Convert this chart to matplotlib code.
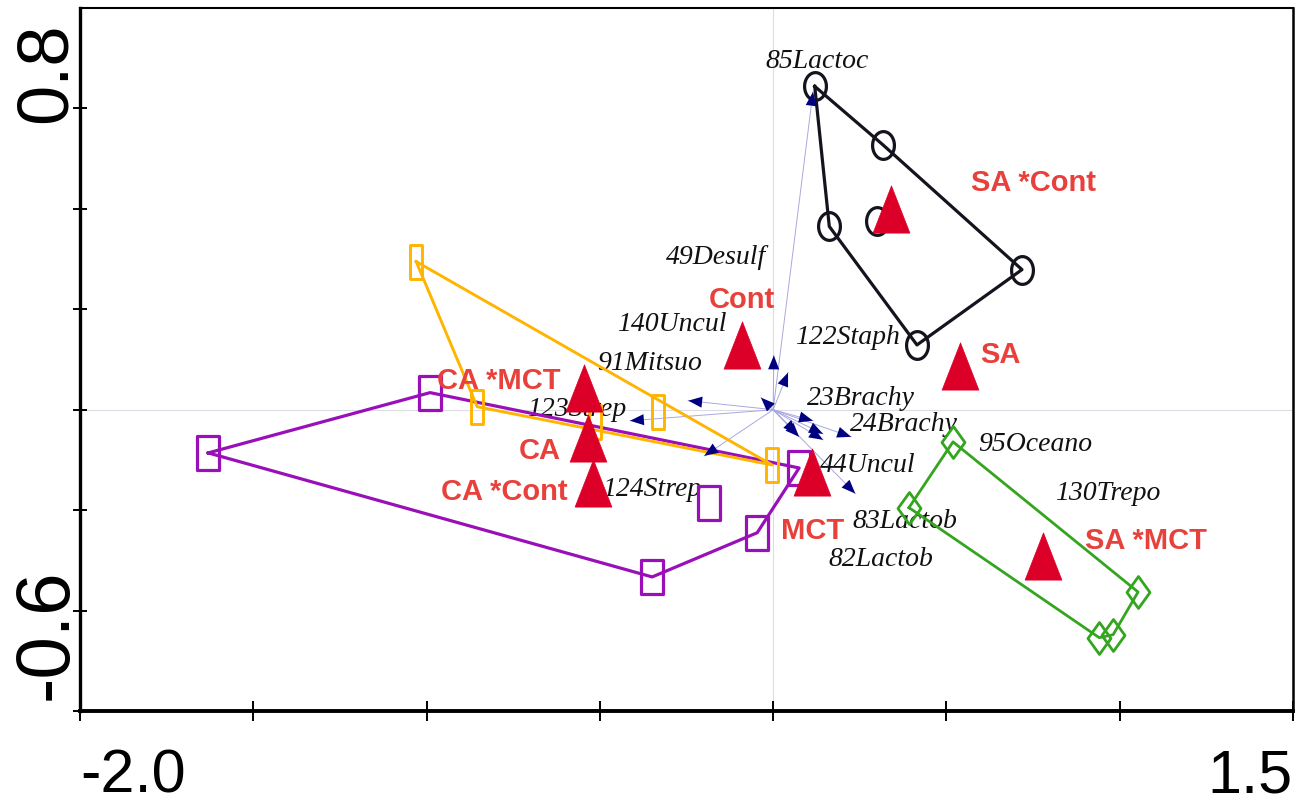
import numpy as np
import matplotlib
matplotlib.use("Agg")
import matplotlib.pyplot as plt
from matplotlib.path import Path
from matplotlib import font_manager

# ---------------- sample scores, one group per treatment ----------------
sa_cont_x = [0.120, 0.316, 0.162, 0.299, 0.718, 0.415]
sa_cont_y = [0.644, 0.528, 0.365, 0.375, 0.279, 0.129]

ca_mct_x = [-1.030, -0.854, -0.332, -0.003, -0.514]
ca_mct_y = [0.295, 0.006, -0.004, -0.110, -0.024]

ca_cont_x = [-1.630, -0.990, -0.349, -0.185, -0.046, 0.075]
ca_cont_y = [-0.086, 0.034, -0.333, -0.185, -0.245, -0.116]

sa_mct_x = [0.519, 0.392, 1.053, 0.941, 0.981]
sa_mct_y = [-0.064, -0.195, -0.363, -0.454, -0.448]

# ---------------- treatment centroids (nominal variables) ----------------
treat_names = ["SA *Cont", "SA", "Cont", "CA *MCT", "CA", "CA *Cont", "MCT", "SA *MCT"]
treat_x = [0.340, 0.540, -0.089, -0.547, -0.533, -0.520, 0.113, 0.778]
treat_y = [0.400, 0.088, 0.129, 0.043, -0.056, -0.146, -0.124, -0.291]

# ---------------- species arrows ----------------
species_names = ["85Lactoc", "49Desulf", "140Uncul", "91Mitsuo", "122Staph",
                 "123Strep", "23Brachy", "24Brachy", "44Uncul", "95Oceano",
                 "124Strep", "130Trepo", "83Lactob", "82Lactob"]
species_x = [0.115, 0.002, -0.035, -0.245, 0.043, -0.413, 0.115, 0.225,
             0.144, 0.144, -0.199, 0.237, 0.069, 0.075]
species_y = [0.633, 0.108, 0.024, 0.018, 0.074, -0.022, -0.022, -0.054,
             -0.048, -0.060, -0.092, -0.167, -0.048, -0.054]

x_tick_values = [-2.0, -1.5, -1.0, -0.5, 0.0, 0.5, 1.0, 1.5]
y_tick_values = [-0.6, -0.4, -0.2, 0.0, 0.2, 0.4, 0.6]

# ---------------- label placement (pixel offsets) ----------------
species_offsets = [(-48, 30), (-108, 98), (-144, 73), (-91, 37), (7, 35),
                   (-103, 11), (-6, 22), (-1, 12), (-3, -32), (155, -5),
                   (-102, -34), (200, 0), (55, -88), (29, -123)]
treat_offsets = [(80, 26, "left"), (20, 11, "left"), (0, 45, "center"),
                 (-23, 7, "right"), (-28, -13, "right"), (-25, -9, "right"),
                 (0, -59, "center"), (42, 15, "left")]

# ---------------- fonts ----------------
_names = {f.name for f in font_manager.fontManager.ttflist}
if "Liberation Sans Narrow" in _names:
    sans = "Liberation Sans Narrow"
    red_size, xlab_size = 24, 50
else:
    sans = "Liberation Sans"
    red_size, xlab_size = 21, 44
serif = "Liberation Serif" if "Liberation Serif" in _names else "DejaVu Serif"


# ---------------- marker shapes ----------------
def closed_marker(verts):
    verts = list(verts) + [verts[0]]
    codes = [Path.MOVETO] + [Path.LINETO] * (len(verts) - 2) + [Path.CLOSEPOLY]
    return Path(verts, codes)


_t = np.linspace(0, 2 * np.pi, 60, endpoint=False)
ellipse_marker = closed_marker([(0.393 * np.cos(a), 0.5 * np.sin(a)) for a in _t])
square_marker = closed_marker([(-0.333, -0.5), (0.333, -0.5), (0.333, 0.5), (-0.333, 0.5)])
slim_marker = closed_marker([(-0.18, -0.5), (0.18, -0.5), (0.18, 0.5), (-0.18, 0.5)])
diamond_marker = closed_marker([(0, -0.5), (0.36, 0), (0, 0.5), (-0.36, 0)])
tri_marker = closed_marker([(0, 0.5), (-0.39, -0.5), (0.39, -0.5)])


def convex_hull(xs, ys):
    pts = sorted(set(zip(xs, ys)))

    def cross(o, a, b):
        return (a[0] - o[0]) * (b[1] - o[1]) - (a[1] - o[1]) * (b[0] - o[0])

    lower, upper = [], []
    for p in pts:
        while len(lower) >= 2 and cross(lower[-2], lower[-1], p) <= 0:
            lower.pop()
        lower.append(p)
    for p in reversed(pts):
        while len(upper) >= 2 and cross(upper[-2], upper[-1], p) <= 0:
            upper.pop()
        upper.append(p)
    hull = lower[:-1] + upper[:-1]
    hull.append(hull[0])
    hx, hy = zip(*hull)
    return list(hx), list(hy)


# ---------------- figure ----------------
fig = plt.figure(figsize=(12.95, 8.06), dpi=100)
ax = fig.add_axes([80 / 1295, 95 / 806, 1213 / 1295, 703 / 806])
ax.set_xlim(-2.0, 1.5)
ax.set_ylim(-0.6, 0.8)

ax.axhline(0, color="#dcdce4", lw=0.8, zorder=0.5)
ax.axvline(0, color="#dcdce4", lw=0.8, zorder=0.5)

# species arrows: faint shaft, navy head
for sx, sy in zip(species_x, species_y):
    ax.plot([0, sx], [0, sy], color="#a8a8e0", lw=0.7, zorder=1)
    ax.annotate("", xy=(sx, sy), xytext=(0, 0),
                arrowprops=dict(arrowstyle="-|>,head_length=1.0,head_width=0.4",
                                color="#000080", lw=0, shrinkA=0, shrinkB=0,
                                mutation_scale=10),
                zorder=3.5)

for name, sx, sy, (dx, dy) in zip(species_names, species_x, species_y, species_offsets):
    ax.annotate(name, xy=(sx, sy), xytext=(dx, dy), textcoords="offset pixels",
                ha="left", va="center", fontsize=20, fontstyle="italic",
                family=serif, color="#111111", zorder=1.5)

# sample groups with their convex envelopes
groups = [
    (sa_cont_x, sa_cont_y, "#14141e", ellipse_marker, 20, 2.3),
    (ca_cont_x, ca_cont_y, "#9a10b8", square_marker, 24, 2.3),
    (ca_mct_x, ca_mct_y, "#ffb400", slim_marker, 24, 2.1),
    (sa_mct_x, sa_mct_y, "#33a51e", diamond_marker, 23, 2.0),
]
for gx, gy, col, mk, ms, lw in groups:
    hx, hy = convex_hull(gx, gy)
    ax.plot(hx, hy, color=col, lw=lw, zorder=2, solid_joinstyle="round")
    ax.plot(gx, gy, linestyle="none", marker=mk, markersize=ms,
            markerfacecolor="none", markeredgecolor=col, markeredgewidth=lw,
            zorder=3)

# treatment centroids
ax.plot(treat_x, treat_y, linestyle="none", marker=tri_marker, markersize=34,
        markerfacecolor="#dc0028", markeredgecolor="#dc0028", markeredgewidth=0.5,
        zorder=4)
for name, tx, ty, (dx, dy, ha) in zip(treat_names, treat_x, treat_y, treat_offsets):
    ax.annotate(name, xy=(tx, ty), xytext=(dx, dy), textcoords="offset pixels",
                ha=ha, va="center", fontsize=red_size, fontweight="bold",
                family=sans, color="#e8403a", zorder=5)

# ---------------- axes frame ----------------
for side, w in [("left", 2.4), ("bottom", 2.8), ("top", 1.5), ("right", 1.8)]:
    ax.spines[side].set_linewidth(w)
    ax.spines[side].set_color("black")

ax.set_xticks(x_tick_values)
ax.set_xticklabels(["-2.0", "", "", "", "", "", "", "1.5"])
ax.set_yticks(y_tick_values)
ax.set_yticklabels([""] * len(y_tick_values))
ax.tick_params(axis="x", direction="inout", length=14, width=1.4, pad=20,
               labelsize=xlab_size)
ax.tick_params(axis="y", direction="inout", length=9.5, width=1.4)
for lab in ax.get_xticklabels():
    lab.set_family(sans)
xl = ax.get_xticklabels()
xl[0].set_horizontalalignment("left")
xl[-1].set_horizontalalignment("right")

ax.annotate("0.8", xy=(0, 0.8), xycoords=("axes fraction", "data"),
            xytext=(-33, -14), textcoords="offset pixels", rotation=90,
            ha="center", va="top", fontsize=52, family="Liberation Sans")
ax.annotate("-0.6", xy=(0, -0.6), xycoords=("axes fraction", "data"),
            xytext=(-33, 11), textcoords="offset pixels", rotation=90,
            ha="center", va="bottom", fontsize=55, family="Liberation Sans")

fig.savefig("out.png", dpi=100, facecolor="white")
